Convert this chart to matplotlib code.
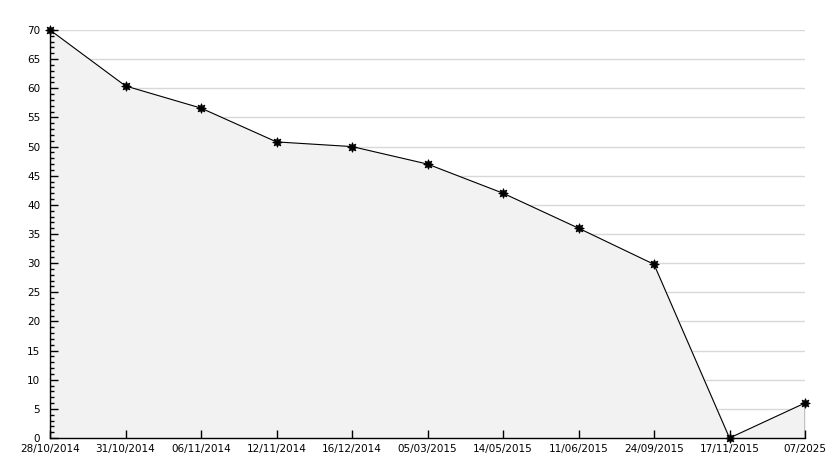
import matplotlib
matplotlib.use("Agg")
import matplotlib.pyplot as plt
from matplotlib.ticker import MultipleLocator

labels = ["28/10/2014", "31/10/2014", "06/11/2014", "12/11/2014", "16/12/2014",
          "05/03/2015", "14/05/2015", "11/06/2015", "24/09/2015", "17/11/2015", "07/2025"]
values = [70, 60.4, 56.6, 50.8, 50.0, 47.0, 42.0, 36.0, 29.8, 0, 6.0]
yticks = list(range(0, 71, 5))

W, H = 834, 468
fig = plt.figure(figsize=(W / 100, H / 100), dpi=100)
ax = fig.add_axes([50 / W, 1 - 438 / H, (805 - 50) / W, (438 - 30) / H])

x = list(range(len(values)))
for t in yticks[1:]:
    ax.axhline(t, color="#d8d8d8", lw=1, zorder=0)
ax.fill_between(x, values, 0, color="#f2f2f2", zorder=1)
ax.plot([x[-1], x[-1]], [0, values[-1]], color="black", lw=1, zorder=2)
ax.plot(x, values, color="black", lw=0.8, marker=(8, 1, 0), markersize=7,
        markeredgewidth=0.6, zorder=5, clip_on=False)

ax.set_xlim(0, len(values) - 1)
ax.set_ylim(0, 70)
ax.set_xticks(x)
ax.set_xticklabels(labels)
ax.set_yticks(yticks)
ax.yaxis.set_minor_locator(MultipleLocator(1))
ax.set_axisbelow(False)

for s in ["top", "right"]:
    ax.spines[s].set_visible(False)
for s in ["left", "bottom"]:
    ax.spines[s].set_linewidth(1)
    ax.spines[s].set_zorder(4)

ax.tick_params(axis="both", which="major", direction="in", length=6, width=1,
               labelsize=7.5, colors="black")
ax.tick_params(axis="y", which="minor", direction="in", length=3, width=1)
ax.tick_params(axis="x", pad=4)
ax.tick_params(axis="y", pad=7)

fig.savefig("out.png", dpi=100, facecolor="white")
